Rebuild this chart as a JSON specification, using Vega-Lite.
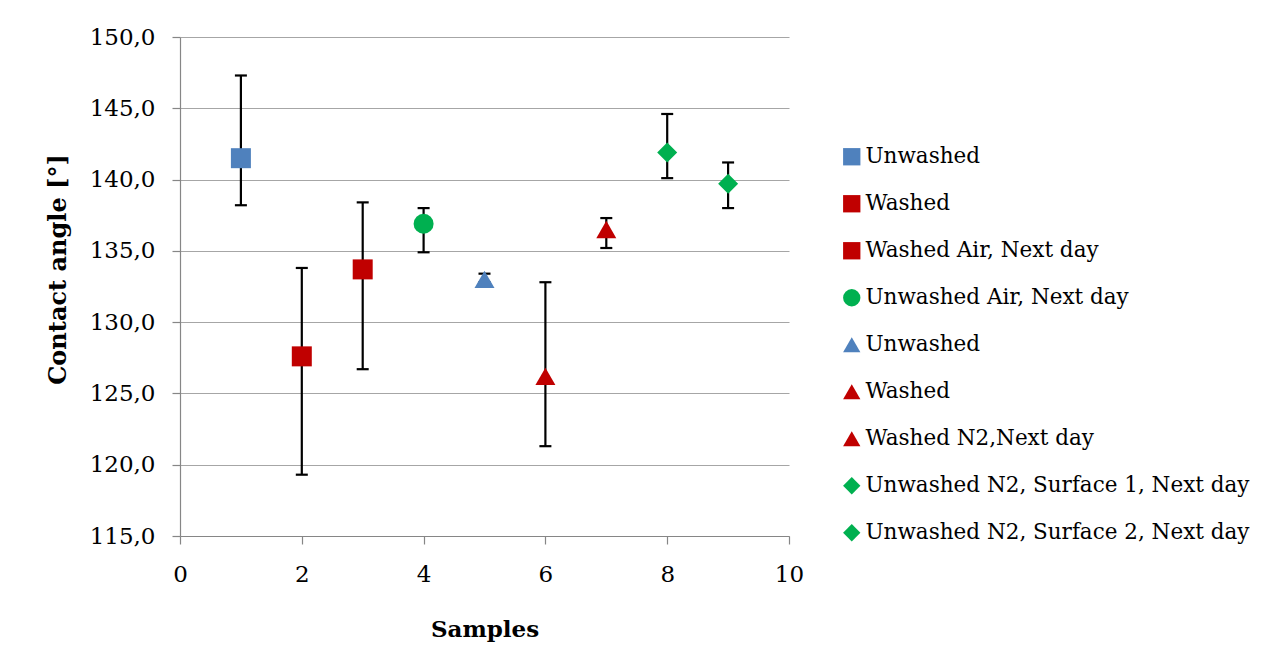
{
  "$schema": "https://vega.github.io/schema/vega-lite/v6.json",
  "width": 609,
  "height": 499,
  "autosize": {"type": "none"},
  "padding": {"left": 180, "top": 37, "right": 494, "bottom": 133},
  "background": "white",
  "config": {
    "view": {"stroke": null},
    "font": "DejaVu Serif",
    "axis": {
      "labelFont": "DejaVu Serif",
      "titleFont": "DejaVu Serif",
      "labelColor": "#000000",
      "titleColor": "#000000",
      "domainColor": "#868686",
      "tickColor": "#868686",
      "gridColor": "#A6A6A6",
      "gridWidth": 1.2,
      "domainWidth": 1.2,
      "tickWidth": 1.2,
      "tickSize": 8,
      "labelFlush": false
    }
  },
  "data": {
    "values": [
      {"sample": 1, "series": "Unwashed", "angle": 141.5, "lo": 138.2, "hi": 147.3},
      {"sample": 2, "series": "Washed", "angle": 127.6, "lo": 119.3, "hi": 133.8},
      {"sample": 3, "series": "Washed Air, Next day", "angle": 133.7, "lo": 126.7, "hi": 138.4},
      {"sample": 4, "series": "Unwashed Air, Next day", "angle": 136.9, "lo": 134.9, "hi": 138.0},
      {"sample": 5, "series": "Unwashed ", "angle": 133.0, "lo": 132.8, "hi": 133.4},
      {"sample": 6, "series": "Washed ", "angle": 126.2, "lo": 121.3, "hi": 132.8},
      {"sample": 7, "series": "Washed N2,Next day", "angle": 136.5, "lo": 135.2, "hi": 137.3},
      {"sample": 8, "series": "Unwashed N2, Surface 1, Next day", "angle": 141.9, "lo": 140.1, "hi": 144.6},
      {"sample": 9, "series": "Unwashed N2, Surface 2, Next day", "angle": 139.7, "lo": 138.0, "hi": 141.2}
    ]
  },
  "layer": [
    {
      "mark": {"type": "rule", "color": "#000000", "strokeWidth": 2.2},
      "encoding": {
        "x": {"field": "sample", "type": "quantitative"},
        "y": {"field": "lo", "type": "quantitative"},
        "y2": {"field": "hi"}
      }
    },
    {
      "mark": {"type": "tick", "orient": "horizontal", "color": "#000000", "size": 12, "thickness": 2.2, "opacity": 1},
      "encoding": {
        "x": {"field": "sample", "type": "quantitative"},
        "y": {"field": "lo", "type": "quantitative"}
      }
    },
    {
      "mark": {"type": "tick", "orient": "horizontal", "color": "#000000", "size": 12, "thickness": 2.2, "opacity": 1},
      "encoding": {
        "x": {"field": "sample", "type": "quantitative"},
        "y": {"field": "hi", "type": "quantitative"}
      }
    },
    {
      "mark": {"type": "point", "filled": true, "opacity": 1, "size": 400},
      "encoding": {
        "x": {
          "field": "sample",
          "type": "quantitative",
          "scale": {"domain": [0, 10], "nice": false, "zero": false},
          "axis": {
            "values": [0, 2, 4, 6, 8, 10],
            "format": "d",
            "grid": false,
            "title": "Samples",
            "titleFontSize": 23,
            "titleFontWeight": "bold",
            "titlePadding": 32,
            "labelFontSize": 23,
            "labelPadding": 19
          }
        },
        "y": {
          "field": "angle",
          "type": "quantitative",
          "scale": {"domain": [115, 150], "nice": false, "zero": false},
          "axis": {
            "values": [115, 120, 125, 130, 135, 140, 145, 150],
            "labelExpr": "replace(format(datum.value, '.1f'), '.', ',')",
            "grid": true,
            "title": "Contact angle [°]",
            "titleFontSize": 24,
            "titleFontWeight": "bold",
            "titlePadding": 19,
            "titleY": 232,
            "labelFontSize": 23,
            "labelPadding": 17
          }
        },
        "color": {
          "field": "series",
          "type": "nominal",
          "scale": {
            "domain": ["Unwashed", "Washed", "Washed Air, Next day", "Unwashed Air, Next day", "Unwashed ", "Washed ", "Washed N2,Next day", "Unwashed N2, Surface 1, Next day", "Unwashed N2, Surface 2, Next day"],
            "range": ["#4F81BD", "#C00000", "#C00000", "#00B050", "#4F81BD", "#C00000", "#C00000", "#00B050", "#00B050"]
          },
          "legend": {
            "title": null,
            "orient": "none",
            "legendX": 661,
            "legendY": 109,
            "padding": 0,
            "labelFont": "DejaVu Serif",
            "labelFontSize": 21.5,
            "labelColor": "#000000",
            "labelOffset": 3,
            "labelLimit": 500,
            "symbolSize": 300,
            "symbolOpacity": 1,
            "symbolStrokeWidth": 0,
            "rowPadding": 24
          }
        },
        "shape": {
          "field": "series",
          "type": "nominal",
          "scale": {
            "domain": ["Unwashed", "Washed", "Washed Air, Next day", "Unwashed Air, Next day", "Unwashed ", "Washed ", "Washed N2,Next day", "Unwashed N2, Surface 1, Next day", "Unwashed N2, Surface 2, Next day"],
            "range": ["square", "square", "square", "circle", "triangle-up", "triangle-up", "triangle-up", "diamond", "diamond"]
          }
        }
      }
    }
  ]
}
